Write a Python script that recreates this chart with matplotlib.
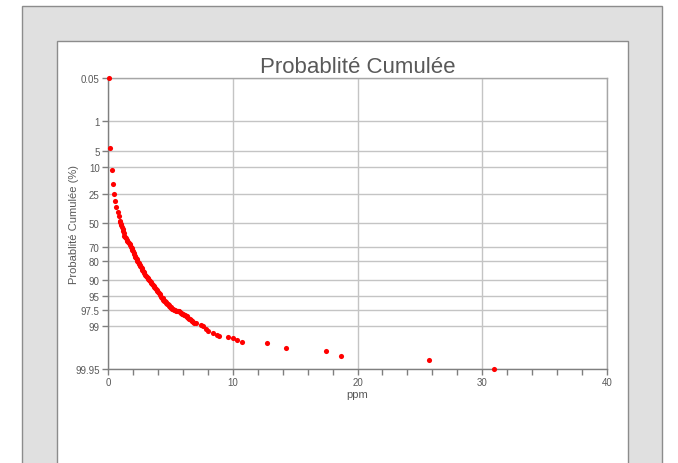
import math
import numpy as np
import matplotlib
matplotlib.use("Agg")
import matplotlib.pyplot as plt
from matplotlib.patches import Rectangle
from matplotlib.ticker import FixedLocator, FixedFormatter, MultipleLocator

plt.rcParams['font.family'] = ['Liberation Sans', 'DejaVu Sans']

# ---- data ----
ppm = [0.08, 0.18, 0.30, 0.38, 0.48, 0.56, 0.67, 0.78, 0.86, 0.96,
       1.00, 1.04, 1.08, 1.12, 1.17, 1.23, 1.28, 1.32, 1.38, 1.44,
       1.50, 1.56, 1.62, 1.68, 1.74, 1.80, 1.85, 1.90, 1.95, 2.00,
       2.05, 2.11, 2.15, 2.20, 2.25, 2.30, 2.35, 2.40, 2.45, 2.51,
       2.55, 2.60, 2.65, 2.70, 2.75, 2.80, 2.86, 2.92, 2.98, 3.04,
       3.10, 3.17, 3.23, 3.29, 3.35, 3.41, 3.47, 3.53, 3.59, 3.65,
       3.71, 3.77, 3.83, 3.89, 3.95, 4.01, 4.07, 4.13, 4.19, 4.25,
       4.31, 4.37, 4.43, 4.49, 4.55, 4.61, 4.67, 4.73, 4.79, 4.85,
       4.91, 4.97, 5.03, 5.09, 5.15, 5.21, 5.29, 5.37, 5.45, 5.53,
       5.59, 5.65, 5.71, 5.77, 5.83, 5.89, 5.96, 6.03, 6.10, 6.17,
       6.24, 6.31, 6.37, 6.43, 6.50, 6.57, 6.64, 6.71, 6.77, 6.83,
       6.93, 7.03, 7.43, 7.64, 7.85, 8.04, 8.44, 8.71, 8.89, 9.64,
       10.04, 10.36, 10.71, 12.74, 14.26, 17.47, 18.67, 25.75, 30.95]
prob = [0.05, 4.4, 11.2, 18.4, 25.0, 30.2, 35.7, 40.0, 43.5, 47.3,
        48.8, 50.3, 51.7, 53.0, 55.0, 57.1, 58.9, 60.7, 62.0, 63.2,
        64.3, 65.3, 66.2, 67.0, 68.0, 69.0, 70.2, 71.3, 72.5, 73.6,
        74.7, 75.8, 76.7, 77.5, 78.3, 79.1, 79.9, 80.7, 81.5, 82.2,
        82.8, 83.4, 84.0, 84.5, 85.2, 85.8, 86.4, 87.0, 87.6, 88.1,
        88.7, 89.2, 89.6, 90.0, 90.4, 90.8, 91.2, 91.5, 91.9, 92.2,
        92.5, 92.8, 93.1, 93.4, 93.7, 94.0, 94.3, 94.5, 94.8, 95.1,
        95.3, 95.5, 95.8, 96.0, 96.1, 96.2, 96.35, 96.5, 96.65, 96.8,
        96.9, 97.0, 97.1, 97.2, 97.3, 97.4, 97.45, 97.5, 97.55, 97.6,
        97.6, 97.6, 97.65, 97.7, 97.8, 97.9, 97.95, 98.0, 98.05, 98.1,
        98.15, 98.2, 98.28, 98.35, 98.42, 98.5, 98.55, 98.6, 98.65, 98.7,
        98.75, 98.8, 98.9, 99.0, 99.15, 99.26, 99.35, 99.42, 99.45, 99.48,
        99.53, 99.58, 99.62, 99.66, 99.76, 99.81, 99.86, 99.90, 99.95]
y_ticks = [0.05, 1, 5, 10, 25, 50, 70, 80, 90, 95, 97.5, 99, 99.95]
y_tick_labels = ['0.05', '1', '5', '10', '25', '50', '70', '80', '90', '95', '97.5', '99', '99.95']
x_ticks = [0, 10, 20, 30, 40]
title = "Probablité Cumulée"
xlabel = "ppm"
ylabel = "Probablité Cumulée (%)"

# ---- normal probability scale ----
_zg = np.linspace(-8, 8, 40001)
_cg = 0.5 * (1 + np.vectorize(math.erf)(_zg / math.sqrt(2))) * 100.0

def fwd(p):
    p = np.asarray(p, dtype=float)
    return np.interp(p, _cg, _zg)

def inv(z):
    z = np.asarray(z, dtype=float)
    return np.interp(z, _zg, _cg)

W, H = 678, 464
fig = plt.figure(figsize=(W / 100, H / 100), dpi=100)
fig.patch.set_facecolor('white')

# background frames
fig.patches.append(Rectangle((22 / W, -0.1), 640 / W, (H - 7) / H + 0.1,
                             transform=fig.transFigure, facecolor='#e0e0e0',
                             edgecolor='#8c8c8c', linewidth=1.0, zorder=-20))
fig.patches.append(Rectangle((57 / W, -0.1), 571 / W, (H - 42) / H + 0.1,
                             transform=fig.transFigure, facecolor='white',
                             edgecolor='#8c8c8c', linewidth=1.0, zorder=-10))

ax = fig.add_axes([108 / W, (H - 370) / H, (607 - 108) / W, (370 - 79) / H])
ax.set_zorder(5)
ax.set_facecolor('white')
ax.set_yscale('function', functions=(fwd, inv))
ax.set_ylim(99.95, 0.05)
ax.set_xlim(0, 40)

ax.yaxis.set_major_locator(FixedLocator(y_ticks))
ax.yaxis.set_major_formatter(FixedFormatter(y_tick_labels))
ax.yaxis.set_minor_locator(FixedLocator([]))
ax.xaxis.set_major_locator(FixedLocator(x_ticks))
ax.xaxis.set_minor_locator(MultipleLocator(2))

ax.grid(True, which='major', color='#c4c4c4', linewidth=1.0)
ax.set_axisbelow(True)

for s in ['top', 'right']:
    ax.spines[s].set_color('#a6a6a6')
    ax.spines[s].set_linewidth(1.0)
for s in ['left', 'bottom']:
    ax.spines[s].set_color('#7f7f7f')
    ax.spines[s].set_linewidth(1.0)

ax.tick_params(axis='both', which='both', direction='out', length=4,
               width=1.0, color='#7f7f7f', labelsize=7, labelcolor='#595959', pad=2)

ax.plot(ppm, prob, linestyle='none', marker='o', markersize=3.7,
        markerfacecolor='#ff0000', markeredgewidth=0, clip_on=False, zorder=5)

ax.set_title(title, fontsize=16, color='#595959', pad=4)
ax.set_xlabel(xlabel, fontsize=8, color='#595959', labelpad=1)
ax.set_ylabel(ylabel, fontsize=8, color='#595959')
ax.yaxis.set_label_coords(-0.058, 0.5)

fig.savefig('out.png', dpi=100)
